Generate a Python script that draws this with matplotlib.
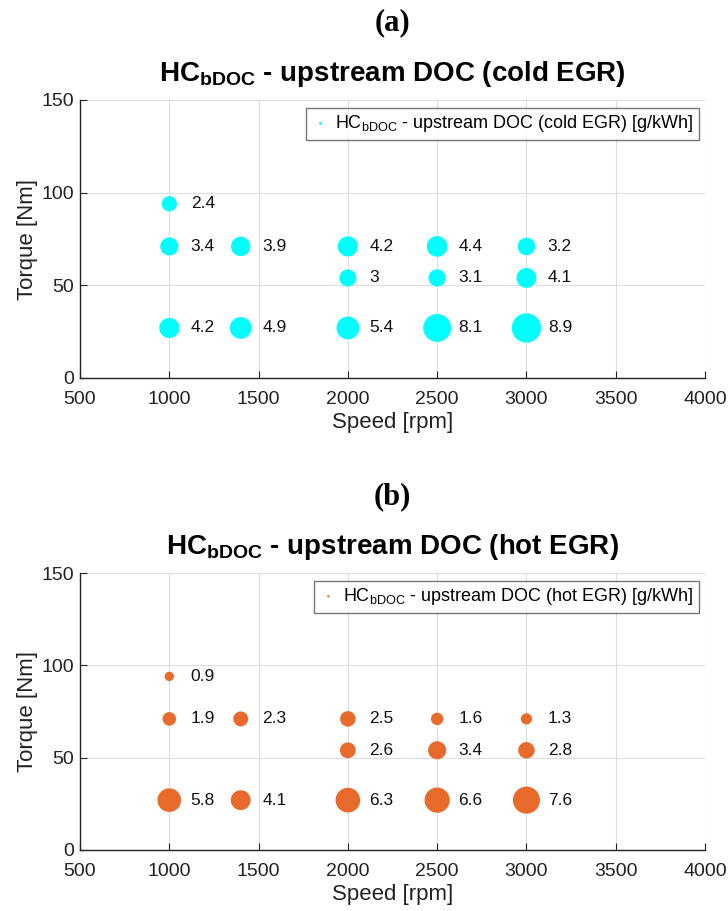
import matplotlib
matplotlib.use("Agg")
import matplotlib.pyplot as plt

plt.rcParams['font.family'] = ['Liberation Sans', 'DejaVu Sans']
plt.rcParams['mathtext.fontset'] = 'custom'
plt.rcParams['mathtext.rm'] = 'Liberation Sans'
plt.rcParams['mathtext.it'] = 'Liberation Sans:italic'
plt.rcParams['mathtext.bf'] = 'Liberation Sans:bold'

# Operating points (speed [rpm], torque [Nm])
speed = [1000, 1000, 1400, 2000, 2500, 3000, 2000, 2500, 3000, 1000, 1400, 2000, 2500, 3000]
torque = [94, 71, 71, 71, 71, 71, 54, 54, 54, 27, 27, 27, 27, 27]

# HC emissions upstream DOC [g/kWh]
hc_cold = [2.4, 3.4, 3.9, 4.2, 4.4, 3.2, 3.0, 3.1, 4.1, 4.2, 4.9, 5.4, 8.1, 8.9]
hc_hot = [0.9, 1.9, 2.3, 2.5, 1.6, 1.3, 2.6, 3.4, 2.8, 5.8, 4.1, 6.3, 6.6, 7.6]

panels = [
    ("(a)", "cold EGR", hc_cold, "#00FFFF"),
    ("(b)", "hot EGR", hc_hot, "#E96B2B"),
]

x_ticks = [500, 1000, 1500, 2000, 2500, 3000, 3500, 4000]
y_ticks = [0, 50, 100, 150]

fig = plt.figure(figsize=(7.28, 9.11), dpi=100)
axes_rects = [
    [80 / 728, 1 - 378 / 911, 625 / 728, 278 / 911],
    [80 / 728, 1 - 850 / 911, 625 / 728, 277 / 911],
]
letter_y = [1 - 23 / 911, 1 - 497 / 911]

for (letter, cond, vals, color), rect, ly in zip(panels, axes_rects, letter_y):
    ax = fig.add_axes(rect)
    sizes = [50 * v for v in vals]
    ax.scatter(speed, torque, s=sizes, color=color, edgecolors='none', zorder=3,
               label=r'HC$_{\mathrm{bDOC}}$ - upstream DOC (' + cond + ') [g/kWh]')
    for x, y, v in zip(speed, torque, vals):
        ax.text(x + 120, y, f"{v:g}", fontsize=12.5, va='center', ha='left', color='#111111')

    ax.set_xlim(500, 4000)
    ax.set_ylim(0, 150)
    ax.set_xticks(x_ticks)
    ax.set_yticks(y_ticks)
    ax.tick_params(direction='in', labelsize=14, length=5, color='#222222', labelcolor='#222222')
    ax.tick_params(axis='x', pad=9)
    ax.tick_params(axis='y', pad=4)
    ax.grid(True, color='#DDDDDD', linewidth=0.8)
    ax.set_axisbelow(True)
    for side in ('top', 'right'):
        ax.spines[side].set_visible(False)
    for side in ('left', 'bottom'):
        ax.spines[side].set_color('#222222')
        ax.spines[side].set_linewidth(1.0)

    ax.set_xlabel('Speed [rpm]', fontsize=16, color='#222222', labelpad=3)
    ax.set_ylabel('Torque [Nm]', fontsize=16, color='#222222', labelpad=3)
    ax.set_title(r'$\mathbf{HC_{bDOC}}$ - upstream DOC (' + cond + ')',
                 fontsize=20, fontweight='bold', pad=14)

    leg = ax.legend(loc='upper right', bbox_to_anchor=(0.99, 0.972), borderaxespad=0,
                    fontsize=13, fancybox=False, edgecolor='#555555', markerscale=0.12,
                    handletextpad=0.3, borderpad=0.3, handlelength=1.0)
    leg.get_frame().set_linewidth(1.0)

    fig.text(392 / 728, ly, letter, ha='center', va='center', fontsize=22,
             fontweight='bold', family='Liberation Serif')

fig.savefig('out.png', dpi=100)
